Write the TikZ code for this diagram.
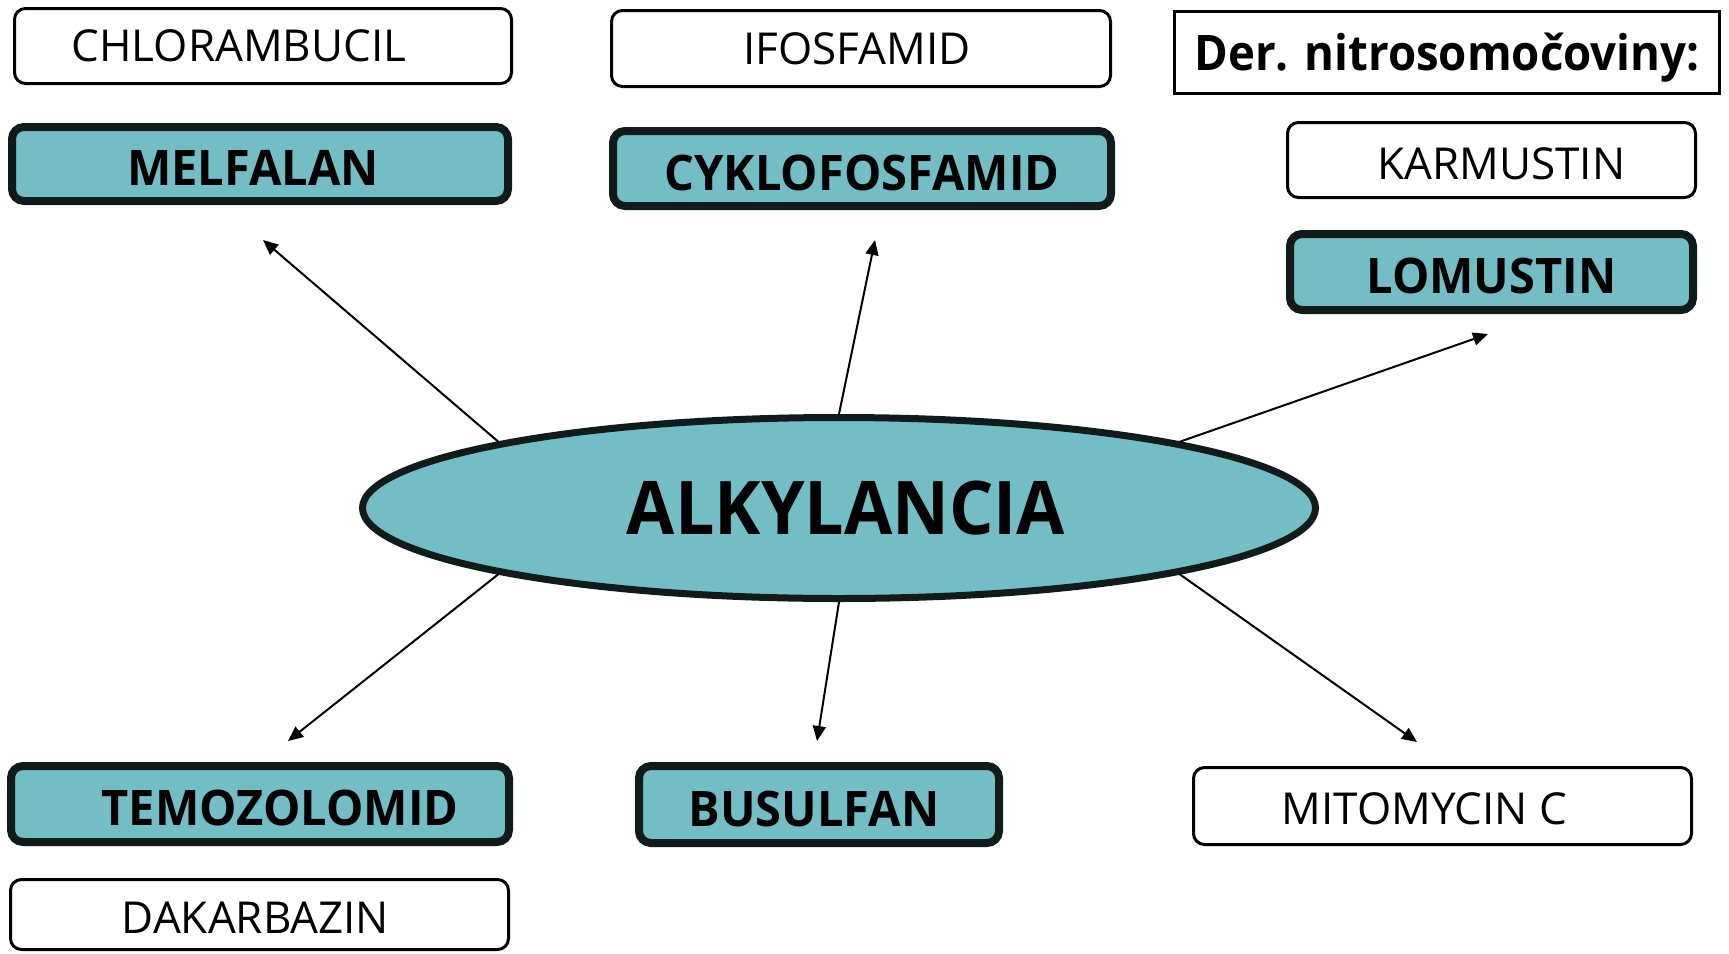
\documentclass[tikz,border=0pt]{standalone}
\usepackage{fontspec}
\usepackage{graphicx}
\setmainfont{Open Sans}
\newfontfamily\boldcond{Open Sans}[FakeStretch=0.96]
\newfontfamily\headcond{Open Sans}[FakeStretch=0.93]
\newfontfamily\alkcond{Open Sans}[FakeStretch=0.945]
\usetikzlibrary{arrows.meta,shapes.geometric}
\definecolor{tealfill}{RGB}{114,190,196}
\definecolor{darkline}{RGB}{16,28,28}
\begin{document}
\begin{tikzpicture}[x=1pt,y=-1pt,
  thinbox/.style={draw=black, line width=3pt, rounded corners=11pt, fill=white,
    inner sep=0pt, font=\fontsize{44}{50}\selectfont, text height=31.4pt, text depth=0pt},
  thickbox/.style={draw=darkline, line width=8pt, rounded corners=12pt, fill=tealfill,
    inner sep=0pt, font=\fontsize{49}{56}\selectfont\boldcond\bfseries, text height=43pt, text depth=0pt},
  headbox/.style={draw=black, line width=3pt, fill=white, inner sep=0pt,
    font=\fontsize{49}{56}\selectfont\headcond\bfseries, text height=35pt, text depth=0pt},
  arr/.style={line width=2pt, -{Triangle[length=15pt,width=13pt]}}
]
\useasboundingbox (0,0) rectangle (1729,953);

% top-left
\node[thinbox, minimum width=497pt, minimum height=75pt] (chl) at (263,46) {CHLORAMBUCIL\hspace*{48pt}};
\node[thickbox, minimum width=496pt, minimum height=74pt] (mel) at (260,164) {MELFALAN\hspace*{14pt}};
% top-middle
\node[thinbox, minimum width=499pt, minimum height=76pt] (ifo) at (861,48.5) {IFOSFAMID\hspace*{8pt}};
\node[thickbox, minimum width=498pt, minimum height=75pt] (cyk) at (862,168.5) {CYKLOFOSFAMID};
% top-right
\node[headbox, minimum width=545pt, minimum height=82pt] (der) at (1447,52.5) {Der. nitrosomočoviny:};
\node[thinbox, minimum width=408pt, minimum height=75pt, text height=39pt] (kar) at (1491.5,160) {\hspace*{20pt}KARMUSTIN};
\node[thickbox, minimum width=403pt, minimum height=76pt] (lom) at (1491.5,272) {LOMUSTIN};
% bottom
\node[thickbox, minimum width=498pt, minimum height=76pt] (tem) at (260,804) {\hspace*{40pt}TEMOZOLOMID};
\node[thinbox, minimum width=498pt, minimum height=70pt, text height=38pt] (dak) at (259.5,914.5) {DAKARBAZIN\hspace*{8pt}};
\node[thickbox, minimum width=360pt, minimum height=77pt] (bus) at (819,804.5) {BUSULFAN\hspace*{10pt}};
\node[thinbox, minimum width=498pt, minimum height=77pt, text height=36pt] (mit) at (1442.5,806) {MITOMYCIN C\hspace*{36pt}};

% centre
\node[ellipse, draw=darkline, line width=7pt, fill=tealfill, inner sep=0pt,
  minimum width=953pt, minimum height=181pt,
  font=\fontsize{74}{80}\selectfont\alkcond\bfseries, text height=53pt, text depth=0pt] (alk) at (839,508) {\hspace*{14pt}ALKYLANCIA};

% arrow tips
\coordinate (t1) at (263,240);
\coordinate (t2) at (875,240);
\coordinate (t3) at (1488,334);
\coordinate (t4) at (288,741);
\coordinate (t5) at (817,741);
\coordinate (t6) at (1417,742);

\draw[arr] (alk.169) -- (t1);
\draw[arr] (alk.north) -- (t2);
\draw[arr] (alk.11) -- (t3);
\draw[arr] (alk.191) -- (t4);
\draw[arr] (alk.south) -- (t5);
\draw[arr] (alk.349) -- (t6);
\end{tikzpicture}
\end{document}
